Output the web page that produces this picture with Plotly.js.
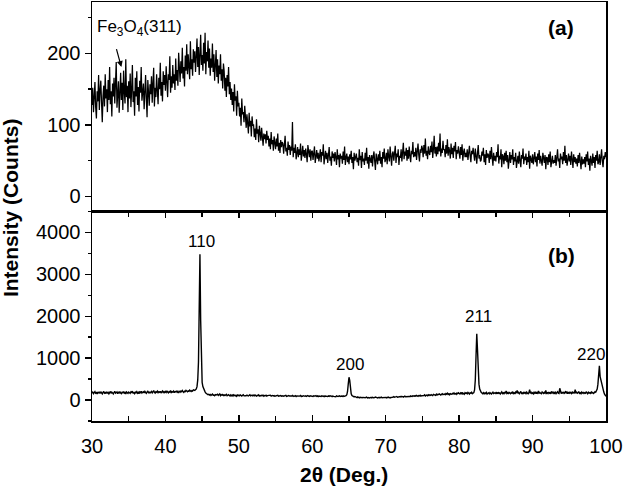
<!DOCTYPE html>
<html><head><meta charset="utf-8">
<script src="https://cdn.plot.ly/plotly-3.0.1.min.js"></script>
<style>html,body{margin:0;padding:0;background:#fff;} #chart{width:624px;height:487px;}</style>
</head><body><div id="chart"></div>
<script>
// Scan grid (2θ, degrees)
const angleStart = 30;
const angleStep = 0.1;

// Panel (a): intensity (counts), one row per degree (30.0 ... 100.0)
const intensityA = [
128,152,118,141,160,125,109,147,133,170,
121,149,162,131,104,140,155,126,171,137,
150,118,163,135,181,129,147,112,158,140,
166,130,152,188,124,143,161,117,149,173,
135,159,121,176,146,130,192,139,155,118,
161,137,172,125,150,184,132,147,113,166,
140,175,128,153,119,162,145,181,134,150,
158,122,144,170,136,111,163,149,127,157,
143,168,131,159,180,126,152,139,171,148,
129,166,150,187,141,160,133,175,156,170,
148,182,155,139,171,163,196,145,168,152,
184,158,171,149,193,162,177,155,201,166,
160,189,172,208,165,181,154,197,176,213,
171,199,185,164,217,178,192,169,206,187,
203,174,196,221,181,209,170,193,226,184,
198,176,215,186,229,171,202,189,218,180,
207,169,193,180,214,174,199,162,188,205,
167,192,158,183,171,199,162,178,151,186,
175,148,166,139,170,154,181,143,160,135,
151,128,146,119,157,134,140,113,148,126,
131,112,124,99,137,115,118,104,127,108,
96,115,102,88,117,98,106,84,112,99,
101,83,95,79,108,88,94,76,99,86,
78,96,82,71,88,80,87,74,92,79,
85,70,81,66,90,73,79,64,84,71,
66,81,70,88,64,75,61,79,69,76,
74,60,71,85,63,68,57,77,65,72,
58,70,64,104,55,68,61,73,52,67,
69,55,66,58,74,50,63,71,56,65,
54,67,59,48,72,61,55,66,50,63,
64,51,60,70,47,58,65,53,61,49,
55,66,48,62,57,73,45,59,64,52,
61,47,58,69,50,56,43,63,54,60,
49,62,55,44,66,52,58,41,60,53,
57,46,63,51,70,44,55,60,48,56,
45,59,52,64,47,55,38,61,50,58,
60,48,54,43,66,51,57,40,62,49,
53,44,61,50,68,46,55,39,58,52,
47,58,42,56,63,49,37,60,54,45,
59,50,64,46,55,41,62,53,67,48,
52,61,45,66,56,49,70,54,43,60,
63,50,58,71,47,60,55,66,44,57,
54,66,49,61,75,52,63,57,68,50,
65,53,70,57,48,64,59,76,55,62,
56,68,51,63,74,58,49,66,61,71,
67,55,72,60,81,57,64,52,70,61,
58,71,62,77,54,66,85,60,69,56,
70,59,75,63,88,56,67,61,78,65,
66,55,72,60,80,57,69,64,53,74,
59,68,54,71,63,76,52,65,60,70,
64,53,69,58,73,50,62,67,55,61,
55,66,51,63,71,57,48,64,59,68,
62,50,67,55,46,61,72,53,58,49,
51,63,57,68,48,59,44,65,54,60,
58,47,64,52,69,55,43,61,50,57,
49,62,55,73,46,57,52,66,41,59,
56,45,61,50,64,48,58,39,55,62,
47,58,52,66,44,55,49,61,40,54,
57,46,63,50,41,58,53,67,45,56,
51,60,44,55,48,64,39,57,53,47,
59,45,54,62,48,56,42,60,51,65,
46,57,50,43,61,53,47,58,38,55,
54,44,59,48,63,41,52,57,46,51,
47,58,43,55,66,49,53,40,60,52,
56,45,62,50,71,47,58,43,54,60,
49,57,44,63,52,40,59,48,55,46,
53,42,58,47,61,50,38,56,45,52,
46,55,41,59,49,63,44,53,36,57,
52,43,60,47,55,40,58,50,64,45,
48,59,44,53,66,49,41,57,52,62,
55
];

// Panel (b): intensity (counts), one row per degree (30.0 ... 100.0)
const intensityB = [
168,190,152,181,201,163,177,144,195,172,
186,159,199,170,148,182,206,165,178,154,
197,169,183,150,175,204,160,188,171,145,
181,208,163,176,192,150,185,170,199,167,
154,187,173,205,166,182,147,194,178,161,
190,171,158,197,183,212,169,176,152,188,
175,200,163,184,149,193,178,210,166,185,
198,171,206,180,159,190,218,175,188,167,
180,204,172,195,226,183,165,199,187,211,
174,197,184,209,168,192,215,180,201,178,
205,183,219,190,172,200,188,226,179,196,
188,212,176,203,194,221,185,207,170,199,
214,190,206,228,197,181,210,202,233,195,
199,218,207,236,212,203,225,214,241,222,
228,248,265,320,480,900,2100,3480,1900,720,
420,320,265,228,196,168,152,141,128,136,
118,134,109,127,142,115,121,104,130,119,
126,138,112,121,145,107,129,116,133,110,
124,108,119,135,102,117,128,111,98,122,
103,118,96,125,111,100,114,92,120,106,
118,104,123,109,96,115,127,101,112,106,
104,119,107,97,113,125,102,110,116,99,
114,101,120,106,95,111,103,123,98,109,
99,112,104,117,93,108,101,114,96,107,
109,96,104,117,93,101,110,98,105,91,
94,107,99,112,90,102,96,108,93,104,
102,91,105,97,112,88,100,94,108,96,
91,103,95,108,89,98,92,105,86,100,
99,88,102,93,107,85,97,91,104,94,
90,100,87,98,105,92,84,101,95,89,
96,85,101,90,95,107,87,98,82,94,
88,97,84,102,91,86,99,81,95,90,
94,83,98,89,103,85,92,80,97,88,
86,95,81,99,89,83,94,100,85,92,
96,86,101,88,94,83,103,125,205,385,
545,470,260,150,108,92,80,74,86,71,
69,58,74,62,53,67,60,72,56,64,
58,68,54,65,71,52,63,59,48,66,
64,53,67,56,49,61,70,55,58,51,
56,65,50,62,69,54,58,47,64,60,
63,52,67,58,71,55,49,62,57,66,
70,82,66,78,73,86,68,75,63,80,
84,74,89,79,71,85,93,77,82,88,
82,95,86,79,99,90,84,102,87,93,
104,92,110,97,88,106,100,115,94,103,
101,116,106,123,99,112,118,104,127,110,
125,111,130,116,107,134,121,128,113,140,
120,137,131,146,124,118,139,150,127,142,
145,130,156,139,162,133,148,127,153,141,
138,160,149,170,142,155,136,166,151,175,
164,144,171,153,182,147,160,139,176,158,
169,149,181,155,143,174,160,186,151,166,
178,240,480,1050,1580,1200,680,380,260,205,
183,166,152,175,148,169,157,181,144,163,
171,150,178,158,145,167,186,153,162,174,
155,176,149,188,160,171,145,166,193,157,
174,152,190,161,214,158,177,149,183,166,
150,178,163,201,155,172,146,188,168,230,
161,183,152,176,205,158,171,144,192,167,
179,155,189,163,150,174,248,160,184,156,
172,149,186,165,198,153,177,162,215,158,
181,163,152,194,170,157,183,166,230,160,
175,156,191,163,178,149,204,171,159,186,
162,184,153,176,199,165,158,281,172,155,
180,166,193,158,175,212,162,187,151,178,
163,189,171,156,201,168,182,159,246,174,
185,162,178,196,160,175,153,190,167,181,
158,176,163,199,171,152,186,165,178,160,
191,168,182,159,176,200,186,214,260,380,
720,820,560,470,400,330,250,190,140,110,
90
];

const peakLabels = ['110', '200', '211', '220'];
const peakLabelAngles = [44.9, 65.1, 82.7, 98.0];
const peakLabelCounts = [3780, 850, 1990, 1090];
const panelLabels = ['(a)', '(b)'];
const phaseLabel = 'Fe<sub>3</sub>O<sub>4</sub>(311)';
const xTitle = '2θ (Deg.)';
const yTitle = 'Intensity (Counts)';

function angles(n) {
  const out = [];
  for (let i = 0; i < n; i++) out.push(+(angleStart + i * angleStep).toFixed(2));
  return out;
}

const FONT = 'Liberation Sans, Arial, Helvetica, sans-serif';

const traces = [
  {x: angles(intensityB.length), y: intensityB, type: 'scatter', mode: 'lines',
   line: {color: '#000', width: 1.4}, xaxis: 'x', yaxis: 'y', hoverinfo: 'skip'},
  {x: angles(intensityA.length), y: intensityA, type: 'scatter', mode: 'lines',
   line: {color: '#000', width: 1.25}, xaxis: 'x2', yaxis: 'y2', hoverinfo: 'skip'}
];

const axisCommon = {
  showline: true, linecolor: '#000', linewidth: 1.5,
  showgrid: false, zeroline: false,
  tickfont: {family: FONT, size: 20, color: '#000'},
  tickcolor: '#000', tickwidth: 1.5
};

const annotations = [];
peakLabels.forEach((t, i) => annotations.push({
  text: t, x: peakLabelAngles[i], y: peakLabelCounts[i], xref: 'x', yref: 'y',
  showarrow: false, xanchor: 'center', yanchor: 'middle',
  font: {family: FONT, size: 17, color: '#000'}
}));
annotations.push({text: '<b>' + panelLabels[0] + '</b>', x: 93.9, y: 236, xref: 'x2', yref: 'y2',
  showarrow: false, xanchor: 'center', yanchor: 'middle', font: {family: FONT, size: 21, color: '#000'}});
annotations.push({text: '<b>' + panelLabels[1] + '</b>', x: 93.9, y: 3460, xref: 'x', yref: 'y',
  showarrow: false, xanchor: 'center', yanchor: 'middle', font: {family: FONT, size: 21, color: '#000'}});
annotations.push({text: phaseLabel, x: 30.4, y: 236, xref: 'x2', yref: 'y2',
  showarrow: false, xanchor: 'left', yanchor: 'middle', font: {family: FONT, size: 17, color: '#000'}});
annotations.push({text: ' ', x: 34.0, y: 181, xref: 'x2', yref: 'y2',
  showarrow: true, arrowhead: 2, arrowsize: 1, arrowwidth: 1.2, arrowcolor: '#000', ax: -6, ay: -22,
  font: {family: FONT, size: 4, color: '#000'}});
annotations.push({text: '<b>' + xTitle + '</b>', x: 0.49, y: -0.128, xref: 'paper', yref: 'paper',
  showarrow: false, xanchor: 'center', yanchor: 'middle', font: {family: FONT, size: 21, color: '#000'}});
annotations.push({text: '<b>' + yTitle + '</b>', x: -0.158, y: 0.51, xref: 'paper', yref: 'paper',
  showarrow: false, textangle: -90, xanchor: 'center', yanchor: 'middle', font: {family: FONT, size: 21, color: '#000'}});

const layout = {
  width: 624, height: 487,
  margin: {l: 92, r: 18, t: 2, b: 66, pad: 0},
  paper_bgcolor: '#fff', plot_bgcolor: '#fff',
  showlegend: false,
  xaxis: Object.assign({}, axisCommon, {
    anchor: 'y', range: [30, 100], dtick: 10, tick0: 0,
    ticks: 'inside', ticklen: 6, mirror: 'ticks', ticklabelstandoff: 6,
    minor: {dtick: 5, ticks: 'inside', ticklen: 5, tickcolor: '#000', tickwidth: 1.5}
  }),
  yaxis: Object.assign({}, axisCommon, {
    domain: [0, 0.5], range: [-500, 4500], dtick: 1000, tick0: 0,
    ticks: 'outside', ticklen: 6, mirror: true,
    minor: {dtick: 500, ticks: 'outside', ticklen: 3, tickcolor: '#000', tickwidth: 1.5}
  }),
  xaxis2: Object.assign({}, axisCommon, {
    anchor: 'y2', matches: 'x', range: [30, 100], ticks: '', showticklabels: false, mirror: true
  }),
  yaxis2: Object.assign({}, axisCommon, {
    domain: [0.5, 1], range: [-21, 272], dtick: 100, tick0: 0,
    ticks: 'outside', ticklen: 6, mirror: true,
    minor: {dtick: 50, ticks: 'outside', ticklen: 3, tickcolor: '#000', tickwidth: 1.5}
  }),
  annotations: annotations
};

Plotly.newPlot('chart', traces, layout, {staticPlot: true, displayModeBar: false});
</script>
</body></html>
